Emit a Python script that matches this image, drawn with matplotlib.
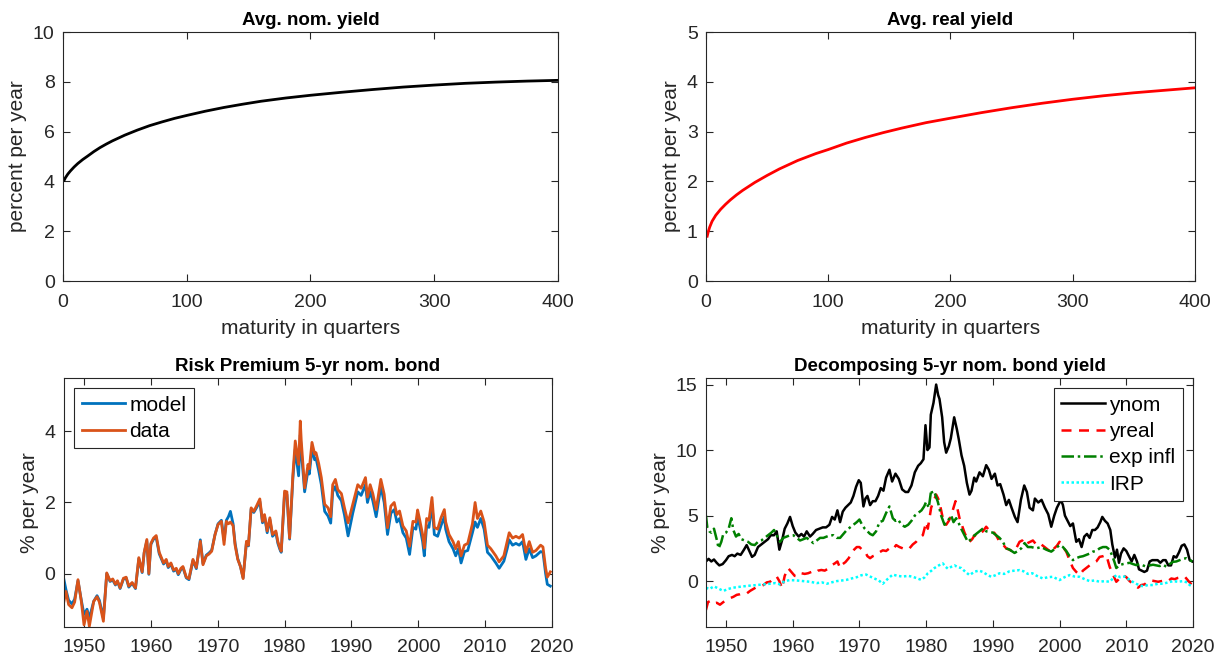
import matplotlib
matplotlib.use("Agg")
import matplotlib.pyplot as plt

plt.rcParams["font.family"] = ["Liberation Sans", "DejaVu Sans"]

AX_COLOR = "#262626"

# ---- average yield curves (maturity in quarters) ----
mat_nom = [1, 2, 4, 6, 9, 12, 16, 20, 25, 30, 35, 40, 50, 60, 70, 80, 90, 100, 115, 130,
           145, 160, 180, 200, 225, 250, 275, 300, 325, 350, 375, 400]
avg_nom = [4.05, 4.15, 4.30, 4.42, 4.58, 4.72, 4.88, 5.02, 5.20, 5.36, 5.50, 5.63, 5.86,
           6.06, 6.24, 6.39, 6.53, 6.65, 6.82, 6.97, 7.10, 7.22, 7.35, 7.46, 7.58, 7.69,
           7.79, 7.87, 7.94, 7.99, 8.03, 8.06]

mat_real = [1, 2, 3, 5, 8, 12, 16, 20, 25, 30, 40, 50, 60, 75, 90, 100, 115, 130, 145, 160,
            180, 200, 225, 250, 275, 300, 325, 350, 375, 400]
avg_real = [0.90, 1.00, 1.08, 1.20, 1.32, 1.44, 1.54, 1.63, 1.73, 1.82, 1.98, 2.12, 2.25,
            2.42, 2.56, 2.64, 2.77, 2.88, 2.98, 3.07, 3.18, 3.27, 3.38, 3.48, 3.57, 3.65,
            3.72, 3.78, 3.83, 3.88]

# ---- risk premium on the 5-yr nominal bond ----
rp_t = [1947.0, 1947.3, 1947.7, 1948.2, 1948.6, 1949.1, 1949.6, 1950.0, 1950.45, 1950.8,
        1951.45, 1951.95, 1952.3, 1952.9, 1953.4, 1953.9, 1954.3, 1954.7, 1955.0, 1955.4,
        1955.9, 1956.3, 1956.7, 1957.2, 1957.7, 1958.2, 1958.7, 1959.0, 1959.4, 1959.7,
        1960.0, 1960.4, 1960.8, 1961.25, 1961.9, 1962.3, 1962.6, 1963.0, 1963.4, 1963.8,
        1964.1, 1964.5, 1964.8, 1965.3, 1965.7, 1966.3, 1966.8, 1967.4, 1967.8, 1968.3,
        1968.7, 1969.1, 1969.6, 1970.05, 1970.55, 1970.95, 1971.3, 1971.6, 1971.9, 1972.3,
        1972.6, 1973.0, 1973.4, 1973.8, 1974.3, 1974.6, 1975.0, 1975.4, 1975.8, 1976.3,
        1976.7, 1977.0, 1977.4, 1977.8, 1978.2, 1978.7, 1979.0, 1979.3, 1979.5, 1980.0,
        1980.35, 1980.75, 1981.25, 1981.6, 1982.1, 1982.35, 1982.5, 1983.0, 1983.5, 1983.7,
        1984.1, 1984.5, 1984.7, 1985.1, 1985.5, 1986.0, 1986.5, 1986.9, 1987.2, 1987.6,
        1987.96, 1988.5, 1988.96, 1989.5, 1990.2, 1990.95, 1991.45, 1992.1, 1992.4, 1992.8,
        1993.2, 1993.7, 1994.4, 1994.9, 1995.4, 1995.9, 1996.4, 1996.8, 1997.2, 1997.7,
        1998.2, 1998.7, 1999.2, 1999.65, 1999.9, 2000.15, 2000.65, 2000.9, 2001.25, 2001.6,
        2002.05, 2002.4, 2002.9, 2003.4, 2003.9, 2004.1, 2004.6, 2005.2, 2005.6, 2006.0,
        2006.4, 2006.9, 2007.4, 2008.1, 2008.5, 2008.85, 2009.35, 2009.85, 2010.35, 2010.85,
        2011.6, 2012.1, 2012.8, 2013.3, 2013.6, 2014.1, 2014.6, 2015.1, 2015.6, 2016.1,
        2016.6, 2017.1, 2017.6, 2018.3, 2018.65, 2019.05, 2019.3, 2019.75]
rp_data = [-0.78, -0.50, -0.87, -0.96, -0.80, -0.17, -0.78, -1.44, -1.06, -1.48,
           -0.78, -0.65, -0.80, -1.34, 0.02, -0.20, -0.15, -0.30, -0.20, -0.40,
           -0.13, -0.10, -0.35, -0.25, -0.40, 0.45, 0.05, 0.60, 0.96, 0.00,
           0.85, 1.00, 1.07, 0.60, 0.30, 0.40, 0.20, 0.30, 0.10, 0.15,
           0.00, 0.15, 0.20, -0.10, -0.14, 0.40, 0.17, 0.91, 0.25, 0.50,
           0.55, 0.63, 1.10, 1.38, 1.47, 0.82, 1.47, 1.40, 1.45, 1.35,
           0.80, 0.40, 0.20, -0.14, 0.91, 0.80, 1.85, 1.75, 1.90, 2.10,
           1.47, 1.66, 1.20, 1.57, 1.10, 1.20, 0.90, 0.72, 0.63, 2.32,
           2.30, 1.00, 2.80, 3.73, 3.07, 4.29, 3.73, 2.41, 3.07, 2.95,
           3.69, 3.36, 3.40, 3.10, 2.70, 1.95, 1.85, 1.60, 2.50, 2.65,
           2.36, 2.25, 1.85, 1.43, 1.95, 2.50, 2.40, 2.70, 2.15, 2.50,
           2.25, 1.80, 2.65, 2.23, 1.29, 1.90, 2.00, 1.66, 1.76, 1.34,
           1.20, 0.77, 1.47, 1.45, 1.79, 1.57, 1.10, 0.72, 1.55, 1.50,
           2.14, 1.30, 1.25, 1.57, 1.80, 1.45, 1.10, 0.90, 0.70, 0.90,
           0.50, 0.80, 0.85, 1.40, 2.00, 1.55, 1.76, 1.45, 0.80, 0.70,
           0.50, 0.33, 0.50, 0.90, 1.15, 1.00, 1.05, 1.00, 1.10, 0.60,
           0.90, 0.60, 0.65, 0.80, 0.75, 0.15, -0.10, 0.05]
rp_model = [-0.17, -0.45, -0.75, -0.85, -0.72, -0.20, -0.75, -1.15, -1.00, -1.25,
            -0.78, -0.62, -0.75, -1.25, 0.00, -0.22, -0.18, -0.32, -0.22, -0.42,
            -0.15, -0.12, -0.38, -0.27, -0.42, 0.42, 0.03, 0.58, 0.92, -0.02,
            0.82, 0.97, 1.02, 0.56, 0.27, 0.37, 0.17, 0.27, 0.07, 0.12,
            -0.03, 0.12, 0.17, -0.12, -0.17, 0.37, 0.14, 0.95, 0.28, 0.52,
            0.58, 0.66, 1.10, 1.40, 1.50, 0.95, 1.50, 1.60, 1.75, 1.40,
            0.85, 0.42, 0.20, -0.12, 0.88, 0.78, 1.82, 1.72, 1.85, 2.03,
            1.43, 1.62, 1.15, 1.52, 1.05, 1.15, 0.85, 0.68, 0.60, 2.25,
            2.22, 0.97, 2.70, 3.50, 2.75, 3.90, 3.45, 2.30, 2.90, 2.80,
            3.50, 3.20, 3.25, 2.90, 2.50, 1.75, 1.62, 1.42, 2.30, 2.45,
            2.20, 2.05, 1.65, 1.06, 1.70, 2.30, 2.20, 2.50, 2.00, 2.30,
            2.05, 1.60, 2.45, 2.00, 1.10, 1.70, 1.80, 1.45, 1.55, 1.15,
            1.00, 0.54, 1.30, 1.25, 1.60, 1.40, 0.90, 0.50, 1.35, 1.30,
            1.95, 1.10, 1.05, 1.35, 1.60, 1.25, 0.90, 0.70, 0.50, 0.70,
            0.30, 0.62, 0.65, 1.15, 1.45, 1.30, 1.55, 1.25, 0.60, 0.50,
            0.30, 0.15, 0.35, 0.70, 0.95, 0.80, 0.85, 0.80, 0.90, 0.40,
            0.70, 0.45, 0.50, 0.62, 0.60, 0.00, -0.30, -0.35]

# ---- decomposition of the 5-yr nominal bond yield ----
ynom_t = [1947.0, 1947.4, 1947.8, 1948.2, 1948.6, 1949.0, 1949.5, 1950.0, 1950.4, 1950.9,
          1951.3, 1951.7, 1952.2, 1952.7, 1953.1, 1953.5, 1953.9, 1954.3, 1954.8, 1955.3,
          1955.8, 1956.3, 1956.7, 1957.2, 1957.6, 1958.0, 1958.4, 1958.8, 1959.2, 1959.6,
          1960.0, 1960.4, 1960.9, 1961.3, 1961.7, 1962.1, 1962.6, 1963.0, 1963.5, 1964.0,
          1964.5, 1965.0, 1965.5, 1965.9, 1966.3, 1966.7, 1967.1, 1967.5, 1967.9, 1968.3,
          1968.7, 1969.1, 1969.5, 1969.9, 1970.2, 1970.6, 1970.9, 1971.2, 1971.6, 1972.0,
          1972.4, 1972.8, 1973.2, 1973.6, 1974.0, 1974.5, 1974.9, 1975.4, 1975.9, 1976.4,
          1976.9, 1977.3, 1977.8, 1978.3, 1978.8, 1979.2, 1979.6, 1979.9, 1980.2, 1980.5,
          1980.7, 1981.1, 1981.5, 1981.8, 1982.0, 1982.4, 1982.7, 1983.0, 1983.4, 1983.7,
          1984.2, 1984.6, 1984.9, 1985.3, 1985.7, 1986.1, 1986.5, 1986.8, 1987.2, 1987.5,
          1988.0, 1988.5, 1989.0, 1989.4, 1989.8, 1990.3, 1990.7, 1991.1, 1991.6, 1992.0,
          1992.4, 1992.8, 1993.3, 1993.7, 1994.2, 1994.7, 1995.1, 1995.5, 1996.0, 1996.3,
          1996.8, 1997.3, 1997.8, 1998.3, 1998.75, 1999.2, 1999.6, 2000.2, 2000.5, 2000.8,
          2001.2, 2001.6, 2002.0, 2002.5, 2002.9, 2003.3, 2003.7, 2004.1, 2004.5, 2004.9,
          2005.3, 2005.7, 2006.1, 2006.4, 2006.8, 2007.2, 2007.6, 2007.9, 2008.3, 2008.6,
          2008.9, 2009.2, 2009.6, 2010.0, 2010.4, 2010.8, 2011.2, 2011.6, 2011.9, 2012.3,
          2012.7, 2013.1, 2013.5, 2013.9, 2014.3, 2014.7, 2015.1, 2015.5, 2015.9, 2016.3,
          2016.7, 2017.1, 2017.5, 2017.9, 2018.3, 2018.7, 2019.1, 2019.5, 2019.9]
ynom = [1.50, 1.70, 1.50, 1.65, 1.40, 1.20, 1.30, 1.60, 1.90, 2.00,
        1.90, 2.10, 2.00, 2.40, 2.75, 2.30, 1.85, 2.00, 2.60, 2.80,
        3.00, 3.20, 3.50, 3.50, 3.80, 2.40, 3.10, 4.00, 4.40, 4.90,
        4.20, 3.70, 3.40, 3.60, 3.40, 3.80, 3.40, 3.60, 3.90, 4.00,
        4.10, 4.10, 4.30, 4.90, 4.70, 5.40, 4.50, 5.30, 5.60, 5.80,
        6.00, 6.50, 7.20, 7.70, 7.50, 5.70, 6.30, 6.50, 5.80, 6.10,
        6.10, 6.50, 7.10, 6.90, 7.90, 8.50, 7.60, 8.20, 7.80, 7.00,
        6.80, 6.80, 7.30, 8.30, 8.80, 9.00, 9.30, 11.90, 10.00, 10.20,
        12.70, 13.60, 15.00, 14.20, 13.90, 12.50, 10.60, 9.80, 10.30, 10.90,
        12.50, 11.60, 10.80, 9.60, 8.80, 7.50, 6.60, 6.90, 7.90, 7.60,
        8.30, 8.00, 8.85, 8.50, 7.80, 8.20, 7.30, 7.40, 6.60, 5.80,
        6.20, 5.60, 4.90, 4.50, 6.20, 7.30, 6.80, 5.60, 5.40, 6.30,
        6.00, 6.20, 5.60, 5.10, 4.15, 5.00, 5.60, 6.20, 5.80, 5.00,
        4.60, 4.20, 4.40, 3.00, 3.20, 2.60, 3.40, 3.60, 3.30, 3.90,
        3.90, 4.10, 4.50, 4.90, 4.60, 4.40, 3.90, 2.80, 1.80, 2.40,
        1.40, 2.10, 2.50, 2.30, 1.90, 1.50, 2.00, 1.50, 0.90, 0.80,
        0.70, 0.80, 1.50, 1.60, 1.60, 1.60, 1.40, 1.60, 1.60, 1.20,
        1.20, 1.90, 1.80, 2.20, 2.70, 2.80, 2.40, 1.60, 1.50]

yreal_t = [1947.0, 1947.3, 1947.7, 1948.1, 1948.6, 1949.1, 1949.6, 1950.1, 1950.6, 1951.1,
           1951.6, 1952.1, 1952.6, 1953.1, 1953.6, 1954.1, 1954.6, 1955.1, 1955.6, 1956.1,
           1956.6, 1957.1, 1957.6, 1958.0, 1958.4, 1958.8, 1959.3, 1959.8, 1960.3, 1960.8,
           1961.3, 1961.8, 1962.3, 1962.8, 1963.3, 1963.8, 1964.3, 1964.8, 1965.3, 1965.8,
           1966.3, 1966.7, 1967.1, 1967.5, 1967.9, 1968.4, 1968.8, 1969.2, 1969.6, 1970.0,
           1970.4, 1970.8, 1971.2, 1971.6, 1972.0, 1972.5, 1973.0, 1973.5, 1974.0, 1974.5,
           1975.0, 1975.5, 1976.0, 1976.5, 1977.0, 1977.5, 1978.0, 1978.5, 1979.0, 1979.5,
           1980.0, 1980.25, 1980.75, 1981.2, 1981.5, 1981.8, 1982.0, 1982.5, 1983.0, 1983.4,
           1983.75, 1984.1, 1984.4, 1984.7, 1985.0, 1985.4, 1985.75, 1986.1, 1986.5, 1986.9,
           1987.25, 1987.6, 1988.0, 1988.5, 1989.0, 1989.4, 1989.8, 1990.2, 1990.6, 1991.0,
           1991.5, 1992.0, 1992.5, 1993.0, 1993.5, 1994.0, 1994.4, 1994.75, 1995.2, 1995.6,
           1996.0, 1996.5, 1997.0, 1997.5, 1998.0, 1998.5, 1998.75, 1999.2, 1999.6, 2000.0,
           2000.5, 2001.0, 2001.5, 2002.0, 2002.5, 2003.0, 2003.5, 2004.0, 2004.5, 2005.0,
           2005.5, 2006.0, 2006.5, 2007.0, 2007.5, 2008.0, 2008.5, 2009.0, 2009.5, 2010.0,
           2010.5, 2011.0, 2011.4, 2011.75, 2012.25, 2012.75, 2013.25, 2013.75, 2014.25, 2014.75,
           2015.25, 2015.75, 2016.25, 2016.75, 2017.25, 2017.75, 2018.25, 2018.75, 2019.25, 2019.75]
yreal = [-2.20, -1.60, -1.50, -1.70, -1.65, -1.80, -1.60, -1.45, -1.30, -1.20,
         -1.05, -1.00, -0.90, -0.95, -0.75, -0.60, -0.45, -0.40, -0.30, -0.10,
         -0.05, 0.20, 0.35, 0.00, -0.55, 0.40, 1.00, 0.70, 0.40, 0.35,
         0.60, 0.55, 0.60, 0.70, 0.60, 0.80, 0.85, 0.80, 0.95, 1.20,
         1.35, 1.50, 1.00, 1.30, 1.45, 1.75, 2.15, 2.40, 2.60, 2.60,
         2.40, 2.30, 1.90, 1.75, 1.90, 2.00, 2.20, 2.35, 2.30, 2.50,
         2.40, 2.75, 2.60, 2.50, 2.40, 2.50, 2.80, 3.00, 3.30, 3.50,
         4.50, 4.00, 5.60, 6.20, 6.60, 6.30, 6.00, 4.80, 4.30, 4.60,
         5.00, 5.60, 6.10, 5.50, 4.80, 4.20, 3.70, 3.30, 3.00, 3.20,
         3.50, 3.40, 3.60, 3.80, 4.15, 3.90, 3.60, 3.70, 3.40, 3.00,
         2.80, 2.50, 2.40, 2.25, 2.50, 3.00, 3.10, 2.75, 2.90, 3.00,
         3.10, 2.80, 2.90, 2.70, 2.50, 2.30, 2.15, 2.50, 2.70, 3.00,
         2.60, 2.25, 1.60, 1.00, 0.70, 0.46, 0.80, 1.00, 1.20, 1.35,
         1.50, 1.85, 1.90, 2.00, 1.10, 0.50, -0.05, 0.20, 0.46, 0.30,
         0.00, -0.20, -0.35, -0.50, -0.30, -0.25, 0.00, 0.05, 0.00, -0.05,
         0.00, 0.05, 0.00, 0.20, 0.15, 0.25, 0.30, 0.35, 0.05, -0.25]

infl_t = [1947.0, 1947.2, 1947.5, 1947.8, 1948.2, 1948.6, 1948.9, 1949.3, 1949.6, 1950.0,
          1950.4, 1950.8, 1951.1, 1951.5, 1951.9, 1952.3, 1952.8, 1953.3, 1953.8, 1954.3,
          1954.8, 1955.3, 1955.8, 1956.3, 1956.8, 1957.2, 1957.6, 1958.1, 1958.6, 1959.1,
          1959.6, 1960.1, 1960.6, 1961.1, 1961.6, 1962.1, 1962.6, 1963.1, 1963.6, 1964.1,
          1964.6, 1965.1, 1965.6, 1966.1, 1966.6, 1967.1, 1967.6, 1968.1, 1968.6, 1969.1,
          1969.6, 1970.0, 1970.4, 1970.8, 1971.2, 1971.6, 1972.0, 1972.5, 1973.0, 1973.5,
          1974.0, 1974.5, 1975.0, 1975.4, 1975.8, 1976.3, 1976.8, 1977.3, 1977.8, 1978.3,
          1978.8, 1979.3, 1979.7, 1980.0, 1980.4, 1980.75, 1981.0, 1981.3, 1981.75, 1982.25,
          1982.75, 1983.25, 1983.75, 1984.1, 1984.5, 1984.9, 1985.25, 1985.75, 1986.25, 1986.75,
          1987.25, 1987.75, 1988.25, 1988.6, 1989.0, 1989.5, 1990.0, 1990.5, 1991.0, 1991.5,
          1992.0, 1992.5, 1993.25, 1993.75, 1994.25, 1994.75, 1995.25, 1995.75, 1996.5, 1997.25,
          1998.0, 1998.75, 1999.4, 2000.0, 2000.5, 2001.0, 2001.5, 2002.0, 2002.5, 2003.0,
          2003.5, 2004.0, 2004.5, 2005.0, 2005.5, 2006.0, 2006.5, 2007.0, 2007.5, 2007.75,
          2008.2, 2008.5, 2009.0, 2009.5, 2010.0, 2010.5, 2011.0, 2011.5, 2012.0, 2012.5,
          2013.0, 2013.5, 2014.0, 2014.5, 2015.0, 2015.5, 2016.0, 2016.5, 2017.0, 2017.5,
          2018.0, 2018.5, 2019.0, 2019.5, 2019.9]
exp_infl = [5.00, 4.10, 3.80, 3.70, 4.00, 3.20, 2.50, 3.00, 3.60, 3.70,
            4.00, 4.80, 3.90, 3.40, 3.60, 3.20, 3.10, 3.00, 2.80, 2.75,
            3.00, 3.10, 3.30, 3.50, 3.70, 3.90, 3.50, 3.00, 3.30, 3.40,
            3.50, 3.50, 3.30, 3.10, 3.20, 3.30, 3.10, 2.90, 3.10, 3.30,
            3.30, 3.40, 3.50, 3.50, 3.30, 3.30, 3.60, 3.90, 4.10, 4.30,
            4.50, 4.70, 4.30, 4.00, 3.80, 3.60, 3.50, 3.80, 4.50, 4.60,
            5.20, 5.70, 4.80, 4.60, 4.70, 4.30, 4.15, 4.30, 4.60, 5.00,
            5.20, 5.40, 5.70, 6.05, 5.60, 6.95, 6.60, 6.70, 6.05, 5.00,
            4.30, 4.60, 5.00, 4.50, 4.80, 4.40, 4.00, 3.50, 3.00, 3.20,
            3.50, 3.70, 3.90, 4.05, 3.80, 3.75, 3.70, 3.50, 3.30, 3.00,
            2.50, 2.40, 2.15, 2.30, 2.50, 2.90, 2.60, 2.60, 2.50, 2.60,
            2.40, 2.25, 2.50, 2.75, 2.60, 2.30, 1.90, 1.60, 1.75, 1.85,
            1.90, 2.00, 2.10, 2.25, 2.30, 2.50, 2.60, 2.60, 2.40, 2.10,
            1.50, 1.00, 1.22, 1.30, 1.35, 1.40, 1.30, 1.22, 1.30, 1.20,
            1.10, 1.20, 1.25, 1.20, 1.15, 1.25, 1.10, 1.30, 1.47, 1.50,
            1.60, 1.70, 1.75, 1.60, 1.50]

irp_t = [1947.0, 1947.5, 1948.2, 1948.8, 1949.6, 1950.3, 1951.1, 1951.8, 1952.6, 1953.5,
         1954.6, 1955.6, 1956.6, 1957.4, 1958.1, 1958.8, 1959.6, 1960.6, 1961.6, 1962.6,
         1963.6, 1964.4, 1965.1, 1965.8, 1966.6, 1967.4, 1968.1, 1968.8, 1969.6, 1970.3,
         1971.0, 1971.6, 1972.25, 1972.9, 1973.5, 1974.2, 1975.0, 1975.7, 1976.5, 1977.3,
         1978.0, 1978.7, 1979.25, 1979.8, 1980.25, 1980.8, 1981.25, 1981.9, 1982.5, 1982.9,
         1983.25, 1983.8, 1984.25, 1984.8, 1985.25, 1985.9, 1986.5, 1987.25, 1987.9, 1988.5,
         1989.1, 1989.75, 1990.4, 1991.0, 1991.7, 1992.5, 1993.25, 1994.0, 1994.6, 1995.25,
         1995.9, 1996.6, 1997.5, 1998.25, 1999.0, 1999.5, 2000.0, 2000.75, 2001.5, 2002.25,
         2003.0, 2003.75, 2004.5, 2005.25, 2006.0, 2006.75, 2007.5, 2008.0, 2008.5, 2009.1,
         2009.75, 2010.5, 2011.25, 2011.9, 2012.5, 2013.25, 2014.0, 2014.75, 2015.5, 2016.25,
         2017.0, 2017.75, 2018.5, 2019.1, 2019.5, 2019.9]
irp = [-0.50, -0.60, -0.40, -0.55, -0.75, -0.60, -0.50, -0.45, -0.40, -0.35,
       -0.30, -0.25, -0.20, -0.15, -0.25, 0.00, 0.08, 0.05, 0.00, -0.05,
       -0.15, -0.10, -0.20, -0.10, 0.00, 0.05, 0.10, 0.20, 0.30, 0.45,
       0.50, 0.35, 0.20, 0.05, -0.20, 0.15, 0.50, 0.40, 0.35, 0.40,
       0.33, 0.20, 0.10, 0.30, 0.60, 0.80, 1.00, 1.20, 1.35, 1.10,
       0.95, 1.10, 1.20, 1.05, 1.00, 0.70, 0.46, 0.72, 0.80, 0.70,
       0.50, 0.33, 0.45, 0.60, 0.55, 0.75, 0.80, 0.84, 0.75, 0.55,
       0.60, 0.40, 0.20, 0.30, 0.33, 0.20, 0.08, 0.30, 0.46, 0.35,
       0.33, 0.15, 0.00, 0.05, -0.05, 0.00, -0.05, 0.20, 0.46, 0.30,
       0.35, 0.10, -0.15, -0.30, -0.40, -0.30, -0.30, -0.20, -0.20, -0.10,
       0.00, -0.05, 0.00, -0.10, -0.30, -0.40]

TICK_FS = 14
LABEL_FS = 15
TITLE_FS = 13.5
LEGEND_FS = 15


def style(ax):
    for s in ax.spines.values():
        s.set_color(AX_COLOR)
        s.set_linewidth(0.8)
    ax.tick_params(direction="in", top=True, right=True, length=5, width=0.8,
                   colors=AX_COLOR, labelsize=TICK_FS, labelcolor=AX_COLOR)
    ax.tick_params(axis="x", pad=9)
    ax.tick_params(axis="y", pad=6)


def legend(ax, loc, hl):
    leg = ax.legend(loc=loc, fontsize=LEGEND_FS, frameon=True, fancybox=False,
                    framealpha=1, edgecolor=AX_COLOR, handlelength=hl, handletextpad=0.2,
                    borderpad=0.35, labelspacing=0.35, borderaxespad=0.5)
    leg.get_frame().set_linewidth(0.8)
    return leg


fig = plt.figure(figsize=(12.25, 6.62), dpi=100)

# top-left: average nominal yield curve
ax1 = fig.add_axes([0.0514, 0.5755, 0.4041, 0.3761])
ax1.plot(mat_nom, avg_nom, color="black", lw=2.0)
ax1.set_xlim(0, 400)
ax1.set_ylim(0, 10)
ax1.set_xticks(range(0, 401, 100))
ax1.set_yticks(range(0, 11, 2))
ax1.set_xlabel("maturity in quarters", fontsize=LABEL_FS, color=AX_COLOR, labelpad=6)
ax1.set_ylabel("percent per year", fontsize=LABEL_FS, color=AX_COLOR)
ax1.set_title("Avg. nom. yield", fontsize=TITLE_FS, fontweight="bold", pad=5)
style(ax1)

# top-right: average real yield curve
ax2 = fig.add_axes([0.5763, 0.5755, 0.3992, 0.3761])
ax2.plot(mat_real, avg_real, color="red", lw=2.0)
ax2.set_xlim(0, 400)
ax2.set_ylim(0, 5)
ax2.set_xticks(range(0, 401, 100))
ax2.set_yticks(range(0, 6))
ax2.set_xlabel("maturity in quarters", fontsize=LABEL_FS, color=AX_COLOR, labelpad=6)
ax2.set_ylabel("percent per year", fontsize=LABEL_FS, color=AX_COLOR)
ax2.set_title("Avg. real yield", fontsize=TITLE_FS, fontweight="bold", pad=5)
style(ax2)

# bottom-left: risk premium, model vs data
ax3 = fig.add_axes([0.0522, 0.0529, 0.3984, 0.3761])
ax3.plot(rp_t, rp_model, color="#0072BD", lw=2.0, label="model")
ax3.plot(rp_t, rp_data, color="#D95319", lw=2.0, label="data")
ax3.set_xlim(1947, 2019.75)
ax3.set_ylim(-1.5, 5.5)
ax3.set_xticks(range(1950, 2021, 10))
ax3.set_yticks([0, 2, 4])
ax3.set_ylabel("% per year", fontsize=LABEL_FS, color=AX_COLOR)
ax3.set_title("Risk Premium 5-yr nom. bond", fontsize=TITLE_FS, fontweight="bold", pad=5)
style(ax3)
legend(ax3, "upper left", 2.1)

# bottom-right: decomposition of the 5-yr nominal yield
ax4 = fig.add_axes([0.5763, 0.0529, 0.3976, 0.3761])
ax4.plot(ynom_t, ynom, color="black", lw=1.8, ls="-", label="ynom")
ax4.plot(yreal_t, yreal, color="red", lw=1.8, ls=(0, (4, 3)), label="yreal")
ax4.plot(infl_t, exp_infl, color="#008000", lw=1.8, ls=(0, (5, 1.5, 1, 1.5)), label="exp infl")
ax4.plot(irp_t, irp, color="cyan", lw=1.8, ls=(0, (1, 1)), label="IRP")
ax4.set_xlim(1947, 2020)
ax4.set_ylim(-3.5, 15.5)
ax4.set_xticks(range(1950, 2021, 10))
ax4.set_yticks([0, 5, 10, 15])
ax4.set_ylabel("% per year", fontsize=LABEL_FS, color=AX_COLOR)
ax4.set_title("Decomposing 5-yr nom. bond yield", fontsize=TITLE_FS, fontweight="bold", pad=5)
style(ax4)
legend(ax4, "upper right", 2.1)

fig.savefig("out.png", dpi=100)
